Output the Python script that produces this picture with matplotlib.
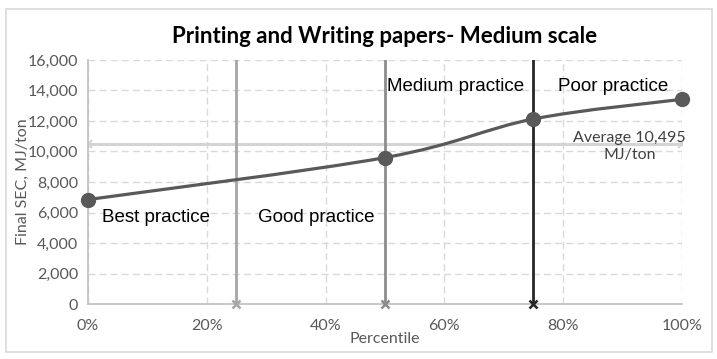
import numpy as np
import matplotlib.pyplot as plt
from matplotlib.path import Path
from matplotlib.patches import PathPatch, Rectangle
from matplotlib.ticker import FuncFormatter, MultipleLocator

# data
percentile = [0, 50, 75, 100]
final_sec = [6850, 9600, 12130, 13420]
average_sec = 10495
cutoffs = [25, 50, 75]
cutoff_colors = ['#a6a6a6', '#8c8c8c', '#262626']
labels = ['Best practice', 'Good practice', 'Medium practice', 'Poor practice']
label_x = [2.4, 28.6, 50.3, 79.1]
label_y = [5700, 5700, 14230, 14230]

tick_font = 'Lato'
tick_color = '#595959'


def smooth_path(xs, ys):
    # Excel-like smoothed line: cubic Bezier through the points
    pts = np.column_stack([xs, ys]).astype(float)
    ext = np.vstack([pts[0], pts, pts[-1]])
    verts = [pts[0]]
    codes = [Path.MOVETO]
    for i in range(len(pts) - 1):
        p0, p1, p2, p3 = ext[i], ext[i + 1], ext[i + 2], ext[i + 3]
        verts += [p1 + (p2 - p0) / 6, p2 - (p3 - p1) / 6, p2]
        codes += [Path.CURVE4] * 3
    return Path(verts, codes)


fig = plt.figure(figsize=(7.17, 3.59), dpi=100)
fig.patches.append(Rectangle((0.009, 0.02), 0.984, 0.955, transform=fig.transFigure,
                             fill=False, edgecolor='#d9d9d9', linewidth=1.2))
ax = fig.add_axes([0.1227, 0.153, 0.8283, 0.68])

ax.set_xlim(0, 100)
ax.set_ylim(0, 16000)
ax.xaxis.set_major_locator(MultipleLocator(20))
ax.yaxis.set_major_locator(MultipleLocator(2000))
ax.xaxis.set_major_formatter(FuncFormatter(lambda v, p: '%d%%' % v))
ax.yaxis.set_major_formatter(FuncFormatter(lambda v, p: '{:,.0f}'.format(v)))
ax.grid(True, color='#d9d9d9', linestyle=(0, (5, 3)), linewidth=1)
ax.set_axisbelow(True)
for s in ['top', 'right']:
    ax.spines[s].set_visible(False)
for s in ['left', 'bottom']:
    ax.spines[s].set_color('#bfbfbf')
    ax.spines[s].set_linewidth(1.2)
ax.tick_params(length=0, labelsize=11.5, labelcolor=tick_color, pad=7)
for t in ax.get_xticklabels() + ax.get_yticklabels():
    t.set_fontfamily(tick_font)
ax.tick_params(axis='x', pad=11)

# average line
ax.plot([0, 100], [average_sec, average_sec], color='#d4d4d4', linewidth=2.2,
        marker='x', markersize=6, markeredgewidth=1.5, zorder=2)

# percentile cut-off lines
for x, c in zip(cutoffs, cutoff_colors):
    ax.plot([x, x], [0, 16000], color=c, linewidth=2, zorder=3)
    ax.plot([x], [0], marker='x', color=c, markersize=6, markeredgewidth=1.8, zorder=3,
            clip_on=False)

# smoothed SEC curve
ax.add_patch(PathPatch(smooth_path(percentile, final_sec), fill=False,
                       edgecolor='#595959', linewidth=2.3, zorder=4))
ax.plot(percentile, final_sec, linestyle='none', marker='o', markersize=10,
        color='#595959', zorder=5, clip_on=False)

for txt, x, y in zip(labels, label_x, label_y):
    ax.text(x, y, txt, fontsize=13.5, family='Liberation Sans', color='black',
            ha='left', va='center', zorder=6)

ax.text(91.2, 10350, 'Average 10,495\nMJ/ton', fontsize=11.5, family=tick_font,
        color='#404040', ha='center', va='center', linespacing=1.25, zorder=6)

ax.set_title('Printing and Writing papers- Medium scale', fontsize=16,
             fontweight='bold', family=tick_font, pad=12)
ax.set_xlabel('Percentile', fontsize=11.5, family=tick_font, color=tick_color)
ax.xaxis.set_label_coords(0.5, -0.115)
ax.set_ylabel('Final SEC, MJ/ton', fontsize=11.5, family=tick_font, color=tick_color)
ax.yaxis.set_label_coords(-0.097, 0.5)

fig.savefig('out.png', dpi=100)
